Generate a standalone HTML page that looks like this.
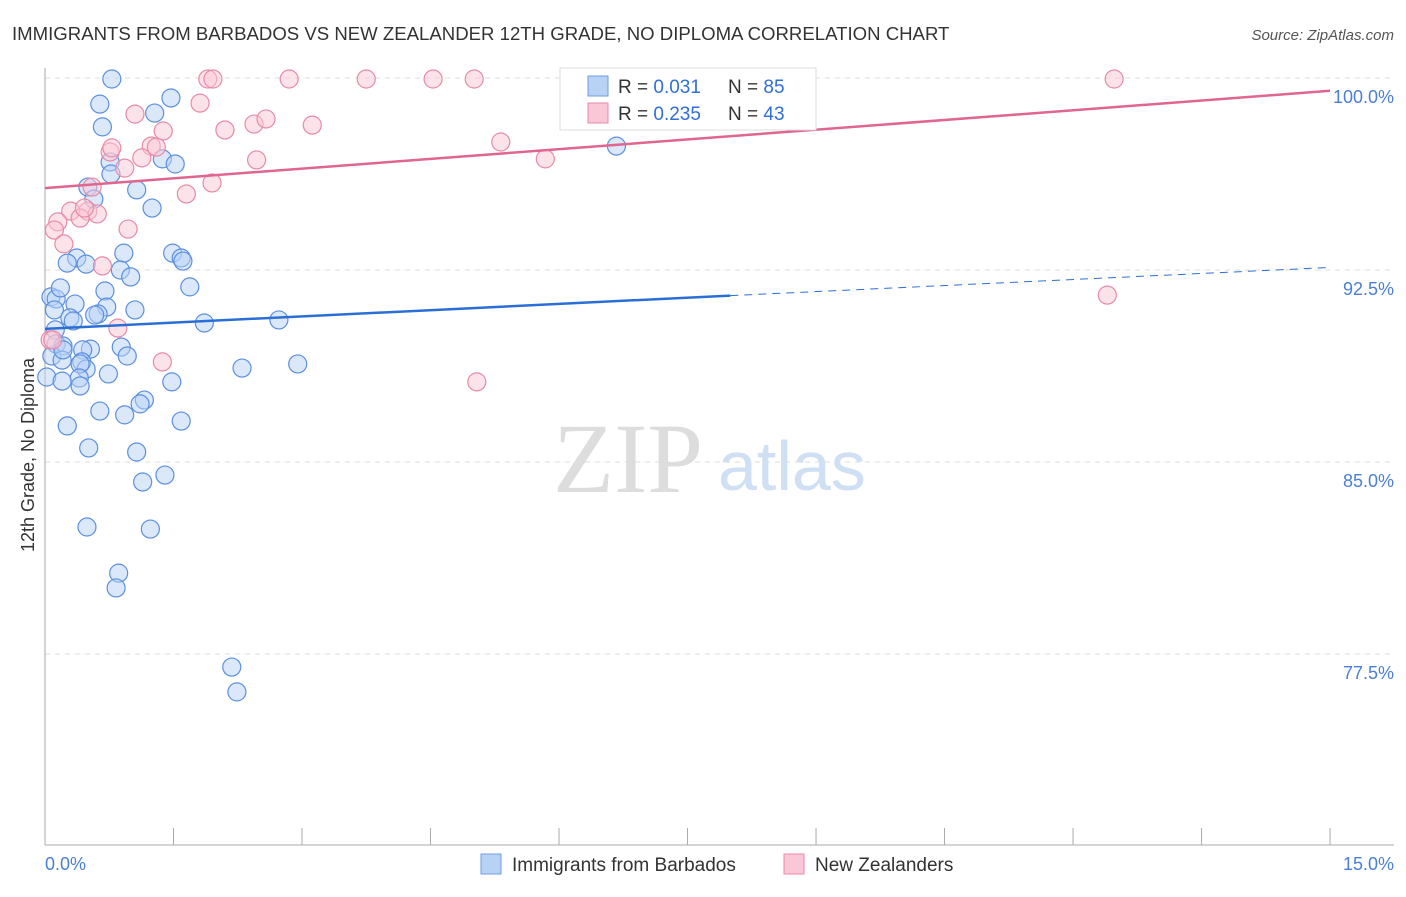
<!DOCTYPE html>
<html><head><meta charset="utf-8">
<style>
body{margin:0;background:#fff;font-family:"Liberation Sans",sans-serif;}
svg text{font-family:"Liberation Sans",sans-serif;}
</style></head><body>
<svg width="1406" height="892">
<text x="12" y="40" font-size="18.6" fill="#333">IMMIGRANTS FROM BARBADOS VS NEW ZEALANDER 12TH GRADE, NO DIPLOMA CORRELATION CHART</text>
<text x="1394" y="40" font-size="15" fill="#555" font-style="italic" text-anchor="end">Source: ZipAtlas.com</text>
<g id="grid"></g>
<text x="553" y="492" font-size="100" fill="#ddd" style="font-family:'Liberation Serif',serif">ZIP</text>
<text x="718" y="490" font-size="70" fill="#d0e0f4">atlas</text>
<g id="pts"></g>
<g id="lines"></g>
<text x="34" y="455" font-size="18" fill="#333" text-anchor="middle" transform="rotate(-90 34 455)">12th Grade, No Diploma</text>
<text x="45" y="870" font-size="18" fill="#4a7fd4">0.0%</text>
<text x="1394" y="870" font-size="18" fill="#4a7fd4" text-anchor="end">15.0%</text>
<g>
<rect x="560" y="68" width="256" height="62" fill="#fff" stroke="#ddd"/>
<rect x="588" y="76" width="20" height="20" fill="#b8d2f5" stroke="#6f9ee0"/>
<text x="618" y="93" font-size="19" fill="#333">R = <tspan fill="#2f6fd6">0.031</tspan></text>
<text x="728" y="93" font-size="19" fill="#333">N = <tspan fill="#2f6fd6">85</tspan></text>
<rect x="588" y="103" width="20" height="20" fill="#f9c7d6" stroke="#e88aa8"/>
<text x="618" y="120" font-size="19" fill="#333">R = <tspan fill="#2f6fd6">0.235</tspan></text>
<text x="728" y="120" font-size="19" fill="#333">N = <tspan fill="#2f6fd6">43</tspan></text>
</g>
<g>
<rect x="481" y="854" width="20" height="20" fill="#b8d2f5" stroke="#6f9ee0"/>
<text x="512" y="871" font-size="19" fill="#333">Immigrants from Barbados</text>
<rect x="784" y="854" width="20" height="20" fill="#f9c7d6" stroke="#e88aa8"/>
<text x="815" y="871" font-size="19" fill="#333">New Zealanders</text>
</g>
</svg>
<script>
const yTicks=[100,92.5,85,77.5];
const yTickLabels=["100.0%","92.5%","85.0%","77.5%"];
const xTicks=[0,1.5,3,4.5,6,7.5,9,10.5,12,13.5,15];
const bluePx=[[112,79],[100,104],[102,127],[155,113],[171,98],[110,162],[111,174],[162,159],[175,164],[137,190],[88,187],[94,199],[152,208],[616,146],[124,253],[77,258],[67,263],[86,264],[120,270],[131,277],[173,253],[181,258],[183,261],[190,287],[105,291],[51,297],[56,299],[60,288],[75,304],[107,307],[135,310],[98,314],[95,315],[54,310],[70,318],[73,321],[204,323],[279,320],[55,330],[56,344],[63,346],[90,349],[83,350],[121,347],[127,356],[52,356],[62,360],[82,362],[86,369],[80,364],[79,378],[80,386],[108,374],[47,377],[62,381],[242,368],[298,364],[172,382],[144,400],[140,404],[100,411],[125,415],[181,421],[67,426],[89,448],[137,452],[165,475],[143,482],[87,527],[150,529],[119,573],[116,588],[232,667],[237,692],[63,350]];
const pinkPx=[[208,79],[213,79],[289,79],[366,79],[433,79],[474,79],[643,79],[1114,79],[200,103],[135,114],[163,131],[225,130],[254,124],[266,119],[312,125],[110,152],[112,148],[151,146],[156,147],[142,158],[257,160],[545,159],[501,142],[186,194],[212,183],[125,168],[92,187],[88,211],[71,211],[97,214],[80,218],[58,222],[54,230],[64,244],[128,229],[102,266],[118,328],[1107,295],[162,362],[477,382],[50,340],[53,340],[84,208]];
const blueX=bluePx.map(p=>+((p[0]-45)/85.67).toFixed(2));
const blueY=bluePx.map(p=>+(100-(p[1]-78)/25.6).toFixed(2));
const pinkX=pinkPx.map(p=>+((p[0]-45)/85.67).toFixed(2));
const pinkY=pinkPx.map(p=>+(100-(p[1]-78)/25.6).toFixed(2));
const blueTrend=[[0,90.2],[8,91.5],[15,92.6]];
const pinkTrend=[[0,95.7],[15,99.5]];
const X=v=>45+v*85.67, Y=v=>78+(100-v)*25.6;
const NS="http://www.w3.org/2000/svg";
function mk(t,a,p){const e=document.createElementNS(NS,t);for(const k in a)e.setAttribute(k,a[k]);p.appendChild(e);return e;}
const g=document.getElementById('grid');
yTicks.forEach((v,i)=>{
 const l=mk('line',{x1:45,x2:1394,y1:Y(v),y2:Y(v),stroke:'#ddd','stroke-dasharray':'5,5'},g);
 
 
 const t=mk('text',{x:1394,y:Y(v)+25,'font-size':18,fill:'#4a7fd4','text-anchor':'end'},g);
 t.textContent=yTickLabels[i];
 
 
});
const ax=mk('line',{x1:45,x2:45,y1:68,y2:845,stroke:'#aaa'},g);


const bx=mk('line',{x1:45,x2:1394,y1:845,y2:845,stroke:'#aaa'},g);


xTicks.forEach(v=>{const t=mk('line',{x1:X(v),x2:X(v),y1:828,y2:845,stroke:'#aaa'},g);
 
 });
const pg=document.getElementById('pts');
function pts(xs,ys,fill,stroke,name){xs.forEach((x,i)=>{
 const c=mk('circle',{cx:X(x),cy:Y(ys[i]),r:9,fill:fill,'fill-opacity':0.5,stroke:stroke,'stroke-width':1.2},pg);
 
 });}
pts(blueX,blueY,'#b8d2f5','#5b8fe0','barbados-point');
pts(pinkX,pinkY,'#f9c7d6','#e88aa8','new-zealander-point');
const lg=document.getElementById('lines');
const b1=mk('line',{x1:X(blueTrend[0][0]),y1:Y(blueTrend[0][1]),x2:X(blueTrend[1][0]),y2:Y(blueTrend[1][1]),stroke:'#2a6fd6','stroke-width':2.5},lg);


const b2=mk('line',{x1:X(blueTrend[1][0]),y1:Y(blueTrend[1][1]),x2:X(blueTrend[2][0]),y2:Y(blueTrend[2][1]),stroke:'#2a6fd6','stroke-width':1,'stroke-dasharray':'8,6'},lg);


const p1=mk('line',{x1:X(pinkTrend[0][0]),y1:Y(pinkTrend[0][1]),x2:X(pinkTrend[1][0]),y2:Y(pinkTrend[1][1]),stroke:'#e0658f','stroke-width':2.5},lg);


</script>
</body></html>
